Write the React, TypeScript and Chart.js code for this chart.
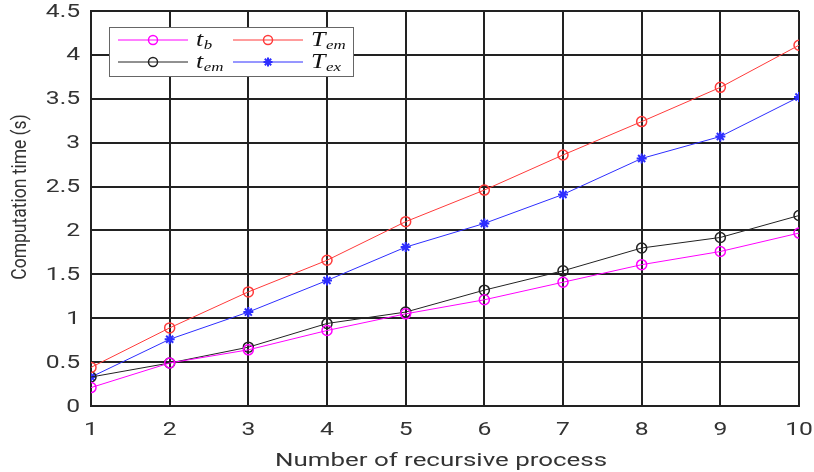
import React, { useEffect, useRef } from "react";
import { Chart, registerables } from "chart.js";

Chart.register(...registerables);

const steps = [1, 2, 3, 4, 5, 6, 7, 8, 9, 10];
const tB = [0.21, 0.49, 0.64, 0.86, 1.05, 1.21, 1.41, 1.61, 1.76, 1.97];
const tEm = [0.33, 0.49, 0.67, 0.94, 1.07, 1.32, 1.54, 1.8, 1.92, 2.17];
const TEm = [0.44, 0.89, 1.3, 1.66, 2.1, 2.46, 2.86, 3.24, 3.63, 4.11];
const TEx = [0.33, 0.76, 1.07, 1.43, 1.81, 2.08, 2.41, 2.82, 3.07, 3.52];

const legendMain = ["t", "T", "t", "T"];
const legendSub = ["b", "em", "em", "ex"];
const seriesColors = ["#ff00ff", "#ff3b3b", "#222222", "#2e2eff"];
const xTitle = "Number of recursive process";
const yTitle = "Computation time (s)";

const toPts = (ys: number[]) => steps.map((x, i) => ({ x, y: ys[i] }));

const STRETCH = 1.37;

const labelPlugin = {
  id: "stretchedLabels",
  afterDraw(chart: any) {
    const ctx = chart.ctx;
    const ca = chart.chartArea;
    const xs = chart.scales.x;
    const ys = chart.scales.y;
    ctx.save();
    ctx.fillStyle = "#333333";
    ctx.font = "18px Roboto";
    ctx.textAlign = "center";
    ctx.textBaseline = "alphabetic";
    xs.ticks.forEach((t: any) => {
      const px = xs.getPixelForValue(t.value);
      ctx.save();
      ctx.translate(px, ca.bottom + 28.5);
      ctx.scale(STRETCH, 1);
      ctx.fillText(String(t.value), 0, 0);
      ctx.restore();
    });
    ctx.textAlign = "right";
    ctx.textBaseline = "middle";
    ys.ticks.forEach((t: any) => {
      const py = ys.getPixelForValue(t.value);
      ctx.save();
      ctx.translate(ca.left - 11, py + 1);
      ctx.scale(STRETCH, 1);
      ctx.fillText(String(t.value), 0, 0);
      ctx.restore();
    });
    // x title
    ctx.textAlign = "center";
    ctx.textBaseline = "alphabetic";
    ctx.font = "18.5px Roboto";
    ctx.save();
    ctx.translate((ca.left + ca.right) / 2 - 4, ca.bottom + 60);
    ctx.scale(1.4, 1);
    ctx.fillText(xTitle, 0, 0);
    ctx.restore();
    // y title
    ctx.font = "17.5px Roboto";
    ctx.save();
    ctx.translate(26, (ca.top + ca.bottom) / 2 - 11.5);
    ctx.scale(1.2, 1);
    ctx.rotate(-Math.PI / 2);
    ctx.fillText(yTitle, 0, 0);
    ctx.restore();
    ctx.restore();
  },
};

const legendPlugin = {
  id: "mathLegend",
  afterDraw(chart: any) {
    const ctx = chart.ctx;
    const ca = chart.chartArea;
    const bx = ca.left + 18;
    const by = ca.top + 16;
    const bw = 244;
    const bh = 49;
    ctx.save();
    ctx.fillStyle = "#ffffff";
    ctx.fillRect(bx, by, bw, bh);
    ctx.strokeStyle = "#666666";
    ctx.lineWidth = 1;
    ctx.strokeRect(bx + 0.5, by + 0.5, bw, bh);
    chart.data.datasets.forEach((ds: any, slot: number) => {
      const col = slot % 2;
      const row = Math.floor(slot / 2);
      const x0 = bx + 9 + col * 115;
      const y0 = by + 13 + row * 22;
      ctx.strokeStyle = ds.borderColor;
      ctx.lineWidth = 1;
      ctx.beginPath();
      ctx.moveTo(x0, y0);
      ctx.lineTo(x0 + 70, y0);
      ctx.stroke();
      const mx = x0 + 35;
      if (ds.pointStyle === "star") {
        ctx.lineWidth = 2;
        const r = 4.5;
        ctx.beginPath();
        for (let k = 0; k < 4; k++) {
          const a = (k * Math.PI) / 4;
          ctx.moveTo(mx - r * Math.cos(a), y0 - r * Math.sin(a));
          ctx.lineTo(mx + r * Math.cos(a), y0 + r * Math.sin(a));
        }
        ctx.stroke();
      } else {
        ctx.lineWidth = 1.5;
        ctx.beginPath();
        ctx.arc(mx, y0, 4.5, 0, Math.PI * 2);
        ctx.stroke();
      }
      const tx = x0 + 78;
      ctx.fillStyle = "#111111";
      ctx.textBaseline = "alphabetic";
      ctx.textAlign = "left";
      ctx.save();
      ctx.translate(tx, y0 + 6);
      ctx.scale(1.3, 1);
      ctx.font = "italic 20px 'Liberation Serif', 'DejaVu Serif', serif";
      const mainTxt = legendMain[slot];
      ctx.fillText(mainTxt, 0, 0);
      const w = ctx.measureText(mainTxt).width;
      ctx.font = "italic 13px 'Liberation Serif', 'DejaVu Serif', serif";
      ctx.fillText(legendSub[slot], w + 0.5, 3);
      ctx.restore();
    });
    ctx.restore();
  },
};

export default function App() {
  const ref = useRef<HTMLCanvasElement | null>(null);
  useEffect(() => {
    if (!ref.current) return;
    const mk = (i: number, data: number[], star = false) => ({
      label: legendMain[i] + "_" + legendSub[i],
      data: toPts(data),
      borderColor: seriesColors[i],
      backgroundColor: star ? seriesColors[i] : "rgba(0,0,0,0)",
      borderWidth: 1,
      pointStyle: star ? "star" : "circle",
      pointRadius: 5,
      pointBorderWidth: star ? 2 : 1.5,
      pointBorderColor: seriesColors[i],
      pointBackgroundColor: star ? seriesColors[i] : "rgba(0,0,0,0)",
      tension: 0,
    });
    const chart = new Chart(ref.current, {
      type: "line",
      data: {
        datasets: [mk(0, tB), mk(1, TEm), mk(2, tEm), mk(3, TEx, true)] as any,
      },
      options: {
        animation: false,
        responsive: false,
        devicePixelRatio: 1,
        layout: { padding: { left: 0, right: 15, top: 11, bottom: 0 } },
        plugins: { legend: { display: false }, tooltip: { enabled: false } },
        scales: {
          x: {
            type: "linear",
            min: 1,
            max: 10,
            ticks: { stepSize: 1, display: false },
            grid: { color: "#222", lineWidth: 2, drawTicks: false },
            border: { color: "#222", width: 2 },
            afterFit: (s: any) => {
              s.height = 66;
            },
          },
          y: {
            min: 0,
            max: 4.5,
            ticks: { stepSize: 0.5, display: false },
            grid: { color: "#222", lineWidth: 2, drawTicks: false },
            border: { color: "#222", width: 2 },
            afterFit: (s: any) => {
              s.width = 91;
            },
          },
        },
      },
      plugins: [labelPlugin, legendPlugin],
    });
    return () => chart.destroy();
  }, []);
  return (
    <div style={{ position: "fixed", left: 0, top: 0, width: 814, height: 472, background: "#fff" }}>
      <canvas ref={ref} width={814} height={472} />
    </div>
  );
}
